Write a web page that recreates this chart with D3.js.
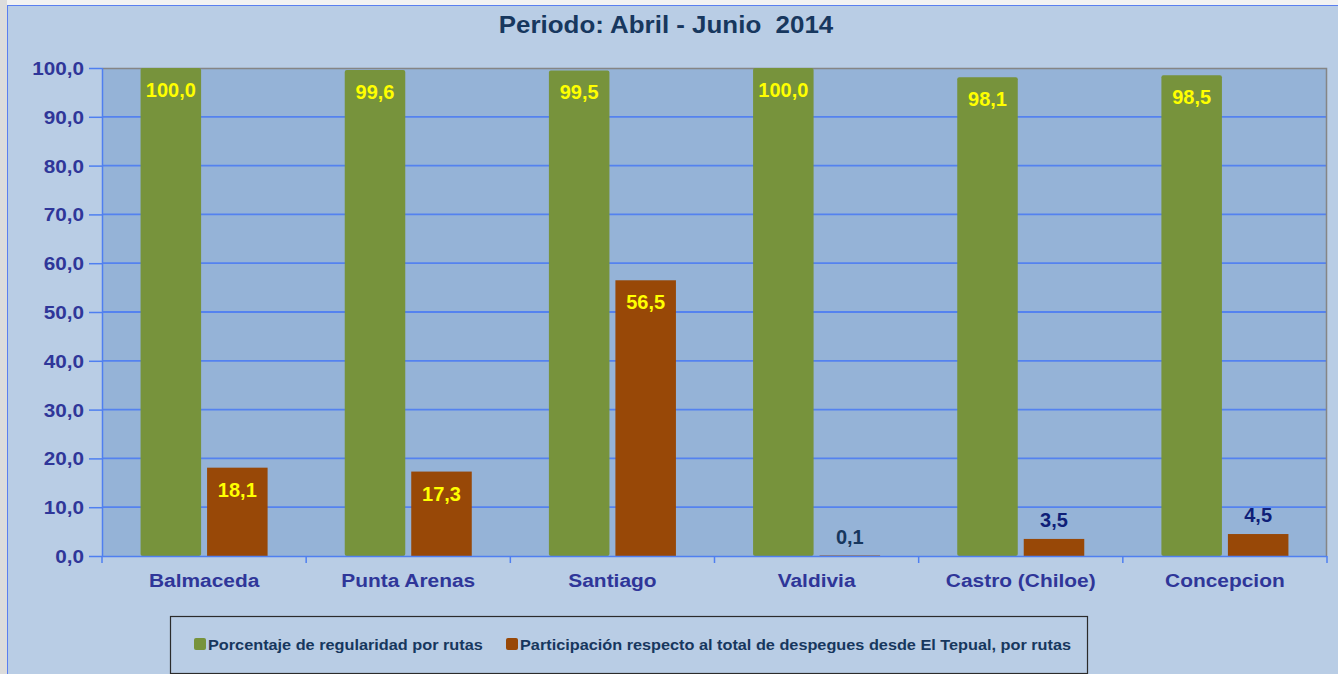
<!DOCTYPE html>
<html><head><meta charset="utf-8">
<script src="https://cdn.jsdelivr.net/npm/d3@7"></script>
<style>
html,body{margin:0;padding:0;background:#f2f2f2;}
svg{display:block;font-family:"Liberation Sans",Arial,sans-serif;}
text{white-space:pre;}
</style></head>
<body>
<svg id="c" width="1338" height="674"></svg>
<script>
const title = "Periodo: Abril - Junio  2014";
const categories = ["Balmaceda","Punta Arenas","Santiago","Valdivia","Castro (Chiloe)","Concepcion"];
const seriesNames = ["Porcentaje de regularidad por rutas","Participación respecto al total de despegues desde El Tepual, por rutas"];
const regularidad = [100.0, 99.6, 99.5, 100.0, 98.1, 98.5];
const participacion = [18.1, 17.3, 56.5, 0.1, 3.5, 4.5];
const yTicks = [0,10,20,30,40,50,60,70,80,90,100];
const colors = ["#77933c","#984807"];

const svg = d3.select("#c");
const W = 1338, H = 674;
// outer frame
svg.append("rect").attr("x",0).attr("y",0).attr("width",W).attr("height",H).attr("fill","#f2f2f2");
svg.append("rect").attr("x",0).attr("y",0).attr("width",7).attr("height",H).attr("fill","#dcdcdc");
svg.append("rect").attr("x",7).attr("y",5).attr("width",W-7).attr("height",H-5).attr("fill","#b9cde5");
svg.append("line").attr("x1",7.5).attr("x2",7.5).attr("y1",5).attr("y2",H).attr("stroke","#5a7ff0").attr("stroke-width",1);
svg.append("line").attr("x1",7).attr("x2",W).attr("y1",5.5).attr("y2",5.5).attr("stroke","#5a7ff0").attr("stroke-width",1);

const L=102, R=1327, T=68, B=556;
const x = d3.scaleBand().domain(categories).range([L,R]).padding(0);
const xs = d3.scaleBand().domain([0,1]).range([0,x.bandwidth()]).paddingInner(0.09).paddingOuter(0.58);
const y = d3.scaleLinear().domain([0,100]).range([B,T]);
const fmt = v => d3.format(".1f")(v).replace(".",",");

function stext(g, x0, y0, sx, str){
  return g.append("text").attr("transform",`translate(${x0},${y0}) scale(${sx},1)`).attr("xml:space","preserve").text(str);
}

// plot bg
svg.append("rect").attr("x",L).attr("y",T).attr("width",R-L).attr("height",B-T).attr("fill","#95b3d7");
// gridlines
svg.append("g").selectAll("line").data(yTicks.filter(t=>t>0 && t<100)).join("line")
  .attr("x1",L).attr("x2",R).attr("y1",d=>y(d)).attr("y2",d=>y(d))
  .attr("stroke","#5482ef").attr("stroke-width",1.8);
// plot border top/right
svg.append("path").attr("d",`M${L},${T+0.5}H${R-0.5}V${B}`).attr("fill","none").attr("stroke","#858585").attr("stroke-width",1.5);

// bars
const vals = [regularidad, participacion];
const bars = svg.append("g");
categories.forEach((c,i)=>{
  vals.forEach((arr,s)=>{
    const v = arr[i];
    bars.append("rect")
      .attr("x", x(c)+xs(s)).attr("y", y(v))
      .attr("width", xs.bandwidth()).attr("height", y(0)-y(v))
      .attr("rx", s===0?2:0).attr("fill", colors[s]);
  });
});

// y axis
const yAxis = svg.append("g").attr("transform",`translate(${L},0)`)
  .call(d3.axisLeft(y).tickValues(yTicks).tickSize(13).tickFormat(""));
yAxis.select(".domain").attr("stroke","#4f7ff0").attr("stroke-width",1.5).attr("d",`M0.5,${T}V${B}`);
yAxis.selectAll(".tick line").attr("stroke","#4f7ff0").attr("stroke-width",1.5);
const yl = svg.append("g").attr("font-size",18).attr("font-weight","bold").attr("fill","#2f3699").attr("text-anchor","end");
yTicks.forEach(t=>{ stext(yl, 84, y(t)+7, 1.15, fmt(t)); });

// x axis
const xAxis = svg.append("g").attr("transform",`translate(0,${B})`)
  .call(d3.axisBottom(x).tickSize(0).tickFormat(""));
xAxis.select(".domain").attr("stroke","#4f7ff0").attr("stroke-width",1.5).attr("d",`M${L},0.5H${R}`);
svg.append("g").selectAll("line").data(categories.map(c=>x(c)).concat([R])).join("line")
  .attr("x1",d=>d).attr("x2",d=>d).attr("y1",B).attr("y2",B+7)
  .attr("stroke","#4f7ff0").attr("stroke-width",1.5);
const xl = svg.append("g").attr("font-size",19).attr("font-weight","bold").attr("fill","#2f3699").attr("text-anchor","middle");
categories.forEach(c=>{ stext(xl, x(c)+x.bandwidth()/2, 587, 1.1, c); });

// value labels
const lab = svg.append("g").attr("font-size",20).attr("font-weight","bold").attr("text-anchor","middle");
categories.forEach((c,i)=>{
  vals.forEach((arr,s)=>{
    const v = arr[i];
    const cx = x(c)+xs(s)+xs.bandwidth()/2;
    if (v > 10) {
      lab.append("text").attr("x",cx).attr("y",y(v)+29).attr("fill","#ffff00").text(fmt(v));
    } else {
      lab.append("text").attr("x",cx).attr("y",y(v)-12).attr("fill", v<1?"#17375e":"#0f1f78").text(fmt(v));
    }
  });
});

// title
const tg = svg.append("g").attr("font-size",24).attr("font-weight","bold").attr("fill","#17375e").attr("text-anchor","middle");
stext(tg, 666, 33, 1.08, title);

// legend
svg.append("rect").attr("x",170.5).attr("y",616.5).attr("width",917).attr("height",57)
  .attr("fill","#b9cde5").attr("stroke","#2b2b2b").attr("stroke-width",1.2);
const lg = svg.append("g").attr("font-size",15).attr("font-weight","bold").attr("fill","#17375e");
const legX = [194, 506];
seriesNames.forEach((n,s)=>{
  lg.append("rect").attr("x",legX[s]).attr("y",638).attr("width",12).attr("height",12).attr("rx",2).attr("fill",colors[s]);
  stext(lg, legX[s]+14, 650, 1.085, n);
});
</script>
</body></html>
